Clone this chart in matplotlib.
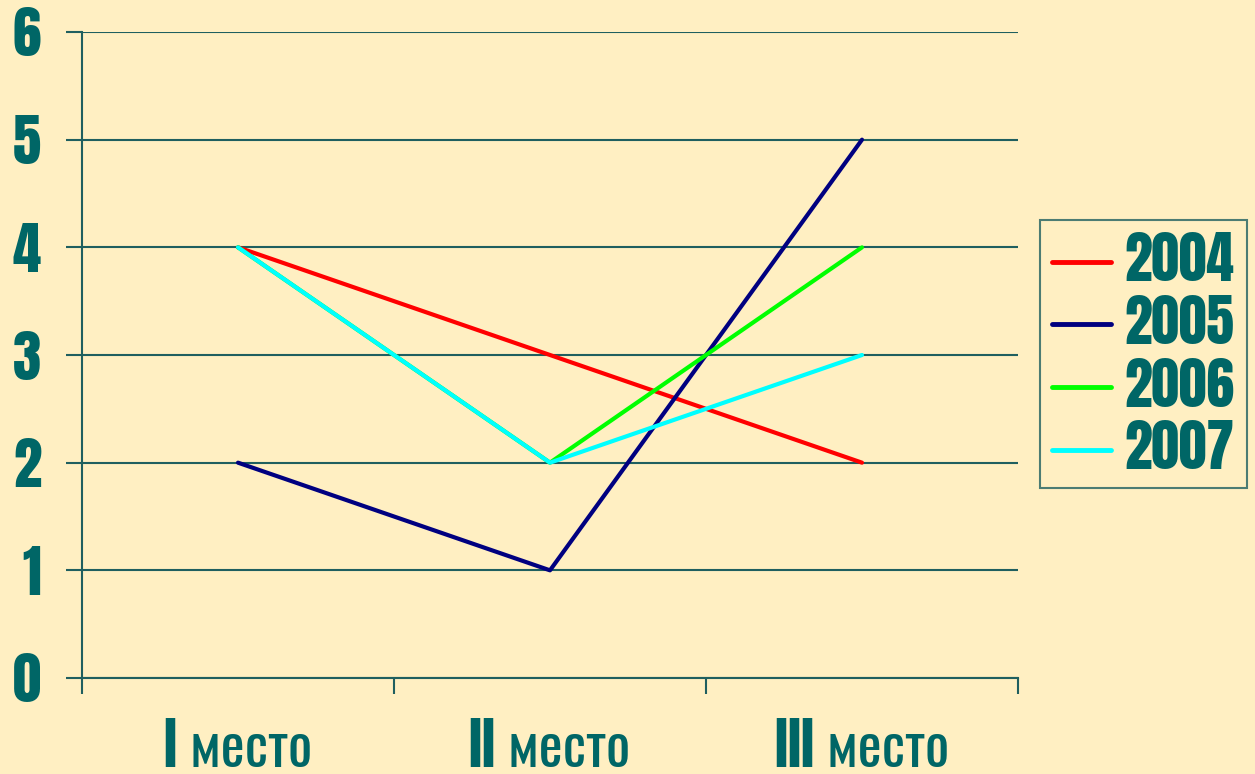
import matplotlib.pyplot as plt
import numpy as np

places = ["I место", "II место", "III место"]
years = ["2004", "2005", "2006", "2007"]
v2004 = [4, 3, 2]
v2005 = [2, 1, 5]
v2006 = [4, 2, 4]
v2007 = [4, 2, 3]
colors = ["#ff0000", "#000080", "#00ff00", "#00ffff"]

bg = "#ffefc2"
teal = "#006666"
grid = "#1f5f5f"

plt.rcParams['font.family'] = ['Anton', 'Oswald', 'Roboto Condensed', 'DejaVu Sans']

fig = plt.figure(figsize=(12.55, 7.74), dpi=100, facecolor=bg)
ax = fig.add_axes([82 / 1255, 1 - 678 / 774, (1018 - 82) / 1255, (678 - 32) / 774])
ax.set_facecolor(bg)

x = np.arange(len(places)) + 0.5
for vals, yr, c in zip([v2004, v2005, v2006, v2007], years, colors):
    ax.plot(x, vals, color=c, lw=3.0, label=yr, solid_capstyle='round', zorder=3)

ax.set_xlim(0, 3)
ax.set_ylim(0, 6)
ax.set_yticks(range(0, 7))
ax.grid(axis='y', color=grid, lw=1.5)
ax.set_axisbelow(True)

ax.set_xticks([0, 1, 2, 3])
ax.set_xticklabels([])
ax.set_xticks(x, minor=True)
ax.set_xticklabels(places, minor=True)
ax.tick_params(axis='x', which='major', length=11.5, width=1.5, color=grid)
ax.tick_params(axis='x', which='minor', length=0, pad=29, labelsize=41, labelcolor=teal)
ax.tick_params(axis='y', length=11.5, width=1.5, color=grid, pad=18, labelsize=41, labelcolor=teal)

for s in ['top', 'right']:
    ax.spines[s].set_visible(False)
for s in ['left', 'bottom']:
    ax.spines[s].set_color(grid)
    ax.spines[s].set_linewidth(1.5)

leg = fig.legend(loc='upper left', bbox_to_anchor=(1040 / 1255, 1 - 220 / 774),
                 fontsize=40, frameon=True, fancybox=False, handlelength=1.05,
                 labelspacing=0.12, borderpad=0.22, borderaxespad=0,
                 handletextpad=0.25)
leg.get_frame().set_facecolor(bg)
leg.get_frame().set_edgecolor(grid)
leg.get_frame().set_linewidth(1.5)
for t in leg.get_texts():
    t.set_color(teal)
for h in leg.get_lines():
    h.set_linewidth(3.5)

fig.savefig("out.png", dpi=100, facecolor=bg)
